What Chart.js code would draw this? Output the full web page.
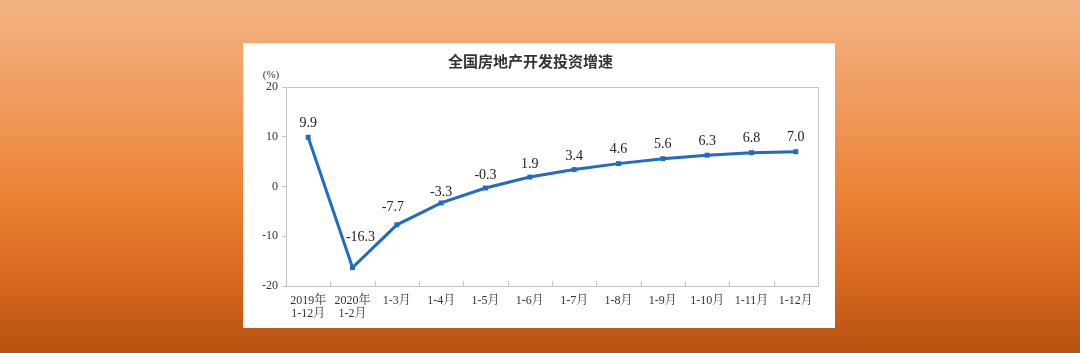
<!DOCTYPE html>
<html><head><meta charset="utf-8">
<script src="https://cdn.jsdelivr.net/npm/chart.js@4/dist/chart.umd.min.js"></script>
<style>
html,body{margin:0;padding:0;}
body{width:1080px;height:353px;overflow:hidden;position:relative;
background:linear-gradient(to bottom,#f3b384 0%,#ef9a5c 30%,#ec8236 55%,#d6681f 80%,#b5510f 100%);}
#panel{position:absolute;left:243px;top:43px;width:592px;height:285px;background:#fff;}
#c{display:block;}
</style></head>
<body>
<div id="panel"><canvas id="c" width="592" height="285"></canvas></div>
<script>
const categories = [["2019年","1-12月"],["2020年","1-2月"],"1-3月","1-4月","1-5月","1-6月","1-7月","1-8月","1-9月","1-10月","1-11月","1-12月"];
const growth = [9.9,-16.3,-7.7,-3.3,-0.3,1.9,3.4,4.6,5.6,6.3,6.8,7.0];
const yTicks = [-20,-10,0,10,20];
const titleText = "全国房地产开发投资增速";
const unitText = "(%)";

const labelOffsets = [14,30,17,11,13,13,13,14,14,14,14,14];
const labelShiftX = [0,8,-4,0,0,0,0,0,0,0,0,0];
const serif = "'Liberation Serif','Noto Serif CJK SC','Noto Sans CJK SC',serif";

const extras = {
  id:'extras',
  afterDraw(chart){
    const ctx = chart.ctx, a = chart.chartArea, xs = chart.scales.x;
    ctx.save();
    ctx.strokeStyle = '#c4c4c4'; ctx.lineWidth = 1;
    ctx.strokeRect(Math.round(a.left)+0.5, Math.round(a.top)+0.5, Math.round(a.right-a.left), Math.round(a.bottom-a.top));
    for(let i=1;i<categories.length;i++){
      const x = Math.round((xs.getPixelForValue(i-1)+xs.getPixelForValue(i))/2)+0.5;
      ctx.beginPath(); ctx.moveTo(x,a.bottom); ctx.lineTo(x,a.bottom-5); ctx.stroke();
    }
    ctx.fillStyle = '#333'; ctx.font = '11px '+serif; ctx.textAlign='center'; ctx.textBaseline='middle';
    ctx.fillText(unitText, 28, 32);
    const meta = chart.getDatasetMeta(0);
    ctx.font = '14px '+serif; ctx.fillStyle = '#222'; ctx.textBaseline='middle';
    meta.data.forEach((pt,i)=>{
      ctx.fillText(growth[i].toFixed(1), pt.x + labelShiftX[i], pt.y - labelOffsets[i]);
    });
    ctx.restore();
  }
};

new Chart(document.getElementById('c'),{
  type:'line',
  data:{labels:categories,datasets:[{data:growth,borderColor:'#1f6cc2',backgroundColor:'#1f6cc2',borderWidth:3,
    pointStyle:'rect',pointRadius:3.5,pointBorderWidth:0,tension:0}]},
  options:{
    responsive:false,animation:false,
    layout:{padding:{left:0,right:17,top:0,bottom:0}},
    plugins:{legend:{display:false},tooltip:{enabled:false},
      title:{display:true,text:titleText,color:'#333',font:{size:15,weight:'bold',family:"'Noto Sans CJK SC',sans-serif"},padding:{top:9,bottom:17}}},
    scales:{
      x:{offset:true,grid:{display:false},border:{display:false},
        ticks:{color:'#333',font:{size:12,family:serif,lineHeight:1.1},padding:0,maxRotation:0,autoSkip:false},
        afterFit(s){s.height=42;}},
      y:{min:-20,max:20,afterBuildTicks(s){s.ticks=yTicks.map(v=>({value:v}));},
        grid:{drawOnChartArea:false,tickLength:4,color:'#c4c4c4'},border:{display:false},
        ticks:{color:'#333',font:{size:12,family:serif},padding:4},
        afterFit(s){s.width=43;}}
    }
  },
  plugins:[extras]
});
</script>
</body></html>
